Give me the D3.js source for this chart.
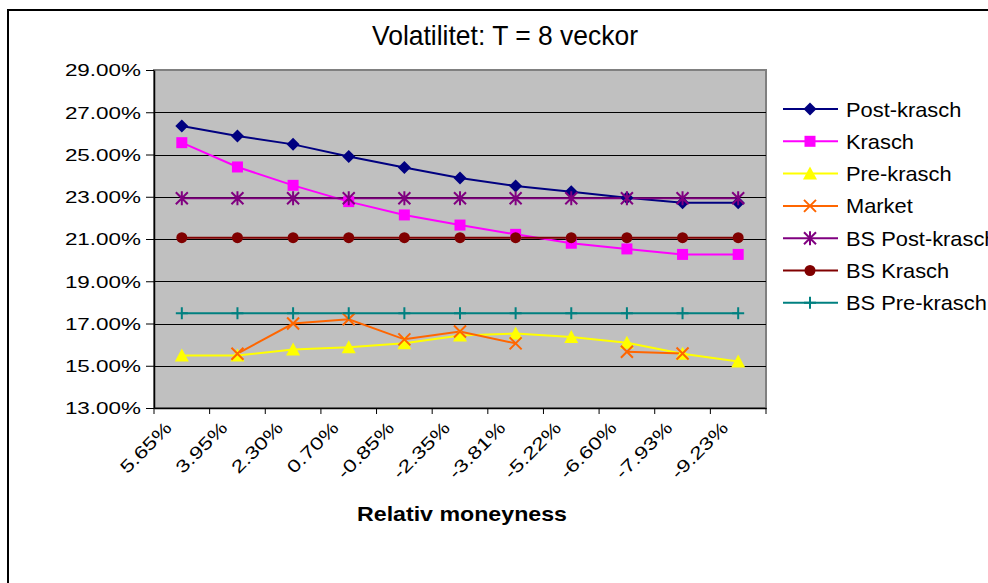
<!DOCTYPE html>
<html>
<head>
<meta charset="utf-8">
<script src="https://cdn.jsdelivr.net/npm/d3@7"></script>
<style>
  html, body { margin: 0; padding: 0; background: #fff; overflow: hidden; }
  svg { display: block; font-family: "Liberation Sans", Arial, sans-serif; }
</style>
</head>
<body>
<svg id="chart" width="988" height="583"></svg>
<script>
// Relativ moneyness (category axis)
const categories = ["5.65%", "3.95%", "2.30%", "0.70%", "-0.85%", "-2.35%", "-3.81%", "-5.22%", "-6.60%", "-7.93%", "-9.23%"];

// Implied volatility per series, in percent (null = no observation)
const postKrasch = [26.35, 25.88, 25.48, 24.91, 24.38, 23.89, 23.51, 23.24, 22.95, 22.72, 22.72];
const krasch     = [25.56, 24.41, 23.54, 22.77, 22.14, 21.66, 21.22, 20.80, 20.53, 20.27, 20.27];
const preKrasch  = [15.49, 15.49, 15.77, 15.87, 16.06, 16.43, 16.53, 16.36, 16.09, 15.57, 15.20];
const market     = [null, 15.57, 17.00, 17.20, 16.25, 16.62, 16.06, null, 15.66, 15.58, null];
const bsPostKrasch = [22.93, 22.93, 22.93, 22.93, 22.93, 22.93, 22.93, 22.93, 22.93, 22.93, 22.93];
const bsKrasch     = [21.06, 21.06, 21.06, 21.06, 21.06, 21.06, 21.06, 21.06, 21.06, 21.06, 21.06];
const bsPreKrasch  = [17.48, 17.48, 17.48, 17.48, 17.48, 17.48, 17.48, 17.48, 17.48, 17.48, 17.48];

const yTicks = [13, 15, 17, 19, 21, 23, 25, 27, 29];

const seriesNames = ["Post-krasch", "Krasch", "Pre-krasch", "Market", "BS Post-krasch", "BS Krasch", "BS Pre-krasch"];
const seriesValues = [postKrasch, krasch, preKrasch, market, bsPostKrasch, bsKrasch, bsPreKrasch];
const seriesColors = ["#000080", "#FF00FF", "#FFFF00", "#FF6600", "#800080", "#800000", "#008080"];
const seriesMarkers = ["diamond", "square", "triangle", "x", "asterisk", "circle", "plus"];

const svg = d3.select("#chart");

// chart frame
svg.append("rect")
  .attr("x", 8).attr("y", 10).attr("width", 1000).attr("height", 600)
  .attr("fill", "#fff").attr("stroke", "#000").attr("stroke-width", 2);

const plot = { left: 154, right: 766, top: 70, bottom: 408 };

const x = d3.scaleBand().domain(categories).range([plot.left, plot.right]).padding(0);
const y = d3.scaleLinear().domain([13, 29]).range([plot.bottom, plot.top]);
const cx = c => x(c) + x.bandwidth() / 2;

// helper: stretch text horizontally by a factor
function stretch(sel, factor) {
  sel.each(function () {
    const w = this.getComputedTextLength();
    d3.select(this).attr("textLength", w * factor).attr("lengthAdjust", "spacingAndGlyphs");
  });
}

// plot area background
svg.append("rect")
  .attr("x", plot.left).attr("y", plot.top)
  .attr("width", plot.right - plot.left).attr("height", plot.bottom - plot.top)
  .attr("fill", "#C0C0C0").attr("stroke", "#808080").attr("stroke-width", 2);

// gridlines
svg.append("g").selectAll("line")
  .data(yTicks.filter(t => t > 13 && t < 29))
  .join("line")
  .attr("x1", plot.left).attr("x2", plot.right)
  .attr("y1", d => Math.round(y(d)) + 0.5).attr("y2", d => Math.round(y(d)) + 0.5)
  .attr("stroke", "#000").attr("stroke-width", 1);

// y axis
const yAxis = svg.append("g")
  .attr("transform", `translate(${plot.left},0)`)
  .call(d3.axisLeft(y).tickValues(yTicks).tickFormat(d => d.toFixed(2) + "%").tickSize(8).tickSizeOuter(0).tickPadding(5));
yAxis.select(".domain").attr("stroke", "#000").attr("stroke-width", 1.5);
yAxis.selectAll(".tick line").attr("stroke", "#000");
yAxis.selectAll(".tick text")
  .attr("font-size", 16.5).attr("fill", "#000")
  .attr("font-family", "Liberation Sans, Arial, sans-serif")
  .attr("dy", "0.36em")
  .call(stretch, 1.36);

// x axis
const xAxis = svg.append("g")
  .attr("transform", `translate(0,${plot.bottom})`)
  .call(d3.axisBottom(x).tickSize(0).tickSizeOuter(0).tickPadding(0));
xAxis.select(".domain").attr("stroke", "#000").attr("stroke-width", 1.5);
xAxis.selectAll(".tick text")
  .attr("font-size", 17.5).attr("fill", "#000")
  .attr("font-family", "Liberation Sans, Arial, sans-serif")
  .attr("text-anchor", "end")
  .attr("dy", 0).attr("y", 0)
  .attr("transform", "translate(-9,21) rotate(-45)")
  .call(stretch, 1.3);

// category boundary ticks
const bounds = categories.map(c => x(c)).concat([plot.right]);
svg.append("g").selectAll("line")
  .data(bounds)
  .join("line")
  .attr("x1", d => d).attr("x2", d => d)
  .attr("y1", plot.bottom).attr("y2", plot.bottom + 6)
  .attr("stroke", "#000").attr("stroke-width", 1);

// series lines (gaps where data are missing)
const line = d3.line()
  .defined(d => d.v != null)
  .x(d => cx(d.c))
  .y(d => y(d.v));

const series = seriesNames.map((name, i) => ({
  name,
  color: seriesColors[i],
  marker: seriesMarkers[i],
  points: categories.map((c, j) => ({ c, v: seriesValues[i][j] }))
}));

svg.append("g").selectAll("path")
  .data(series)
  .join("path")
  .attr("d", s => line(s.points))
  .attr("fill", "none")
  .attr("stroke", s => s.color)
  .attr("stroke-width", 2);

// marker drawing
function drawMarker(g, type, color) {
  switch (type) {
    case "diamond":
      g.append("path").attr("d", "M0,-6.5L6.5,0L0,6.5L-6.5,0Z").attr("fill", color);
      break;
    case "square":
      g.append("rect").attr("x", -5.5).attr("y", -5.5).attr("width", 11).attr("height", 11).attr("fill", color);
      break;
    case "triangle":
      g.append("path").attr("d", "M0,-7L7,6L-7,6Z").attr("fill", color);
      break;
    case "circle":
      g.append("circle").attr("r", 5.5).attr("fill", color);
      break;
    case "x":
      g.append("path").attr("d", "M-6,-6L6,6M-6,6L6,-6").attr("stroke", color).attr("stroke-width", 2).attr("fill", "none");
      break;
    case "asterisk":
      g.append("path").attr("d", "M-6,-6L6,6M-6,6L6,-6M0,-7L0,7").attr("stroke", color).attr("stroke-width", 2).attr("fill", "none");
      break;
    case "plus":
      g.append("path").attr("d", "M-6,0L6,0M0,-6L0,6").attr("stroke", color).attr("stroke-width", 2).attr("fill", "none");
      break;
  }
}

series.forEach(s => {
  svg.append("g").selectAll("g")
    .data(s.points.filter(p => p.v != null))
    .join("g")
    .attr("transform", p => `translate(${cx(p.c)},${y(p.v)})`)
    .each(function () { drawMarker(d3.select(this), s.marker, s.color); });
});

// title
svg.append("text")
  .attr("x", 505).attr("y", 45)
  .attr("text-anchor", "middle")
  .attr("font-size", 28).attr("fill", "#000")
  .attr("textLength", 266).attr("lengthAdjust", "spacingAndGlyphs")
  .text("Volatilitet: T = 8 veckor");

// x axis title
svg.append("text")
  .attr("x", 462).attr("y", 521)
  .attr("text-anchor", "middle")
  .attr("font-size", 21).attr("font-weight", "bold").attr("fill", "#000")
  .attr("textLength", 210).attr("lengthAdjust", "spacingAndGlyphs")
  .text("Relativ moneyness");

// legend
const legend = svg.append("g");
series.forEach((s, i) => {
  const ly = 109 + i * 32.3;
  const g = legend.append("g").attr("transform", `translate(0,${ly})`);
  g.append("line").attr("x1", 783).attr("x2", 838).attr("y1", 0).attr("y2", 0)
    .attr("stroke", s.color).attr("stroke-width", 2);
  const m = g.append("g").attr("transform", "translate(810,0)");
  drawMarker(m, s.marker, s.color);
  g.append("text").attr("x", 846).attr("y", 0).attr("dy", "0.36em")
    .attr("font-size", 21).attr("fill", "#000")
    .call(t => t.text(s.name))
    .call(stretch, 1.04);
});
</script>
</body>
</html>
